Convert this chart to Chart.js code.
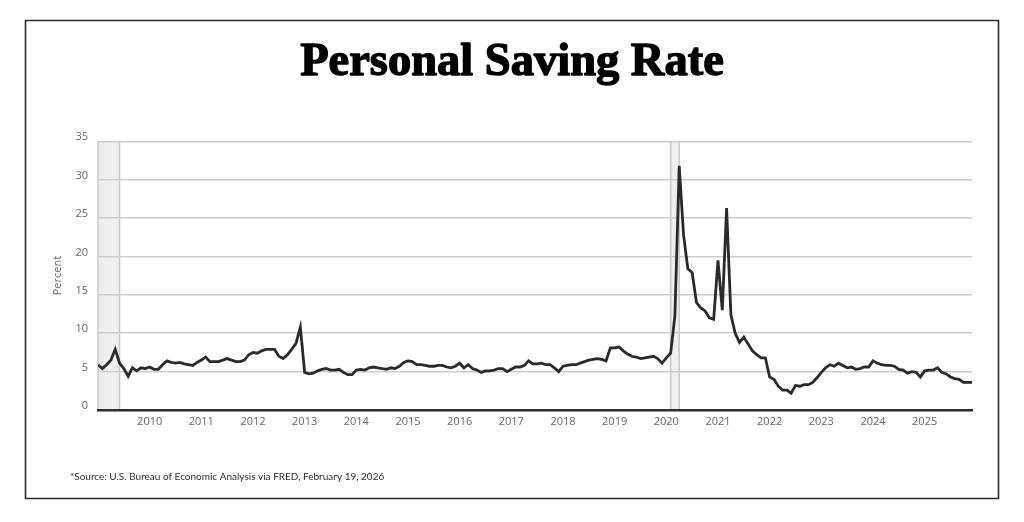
<!DOCTYPE html>
<html>
<head>
<meta charset="utf-8">
<script src="https://cdn.jsdelivr.net/npm/chart.js@4.4.1/dist/chart.umd.min.js"></script>
<style>
  html, body { margin: 0; padding: 0; background: #ffffff; }
  #wrap { width: 1024px; height: 522px; }
</style>
</head>
<body>
<div id="wrap"><canvas id="c" width="1024" height="522"></canvas></div>
<script>
// ---- Data (monthly personal saving rate, percent) ----
const years = [2009, 2010, 2011, 2012, 2013, 2014, 2015, 2016, 2017, 2018, 2019, 2020, 2021, 2022, 2023, 2024, 2025];
const rate2009 = [5.9, 5.4, 5.9, 6.5, 7.9, 6.1, 5.4, 4.4, 5.5, 5.1, 5.5, 5.4];
const rate2010 = [5.6, 5.3, 5.3, 5.9, 6.4, 6.2, 6.1, 6.2, 6.0, 5.9, 5.8, 6.2];
const rate2011 = [6.5, 6.9, 6.3, 6.3, 6.3, 6.5, 6.7, 6.5, 6.3, 6.3, 6.5, 7.2];
const rate2012 = [7.5, 7.4, 7.7, 7.9, 7.9, 7.9, 7.0, 6.7, 7.2, 7.9, 8.7, 10.8];
const rate2013 = [4.9, 4.7, 4.8, 5.1, 5.3, 5.4, 5.2, 5.2, 5.3, 4.9, 4.6, 4.6];
const rate2014 = [5.2, 5.3, 5.2, 5.5, 5.6, 5.5, 5.4, 5.3, 5.5, 5.4, 5.7, 6.2];
const rate2015 = [6.4, 6.3, 5.9, 5.9, 5.8, 5.7, 5.7, 5.8, 5.8, 5.6, 5.5, 5.7];
const rate2016 = [6.1, 5.5, 5.9, 5.4, 5.2, 4.9, 5.1, 5.1, 5.2, 5.4, 5.4, 5.0];
const rate2017 = [5.3, 5.6, 5.6, 5.8, 6.4, 6.0, 6.0, 6.1, 5.9, 5.9, 5.5, 5.0];
const rate2018 = [5.7, 5.8, 5.9, 5.9, 6.1, 6.3, 6.5, 6.6, 6.7, 6.6, 6.4, 8.1];
const rate2019 = [8.1, 8.2, 7.7, 7.3, 7.0, 6.9, 6.7, 6.8, 6.9, 7.0, 6.7, 6.1];
const rate2020 = [6.8, 7.4, 12.3, 31.8, 22.8, 18.4, 17.9, 14.0, 13.3, 12.9, 12.0, 11.8];
const rate2021 = [19.5, 13.0, 26.3, 12.4, 10.0, 8.8, 9.5, 8.6, 7.7, 7.2, 6.8, 6.8];
const rate2022 = [4.3, 4.0, 3.1, 2.6, 2.6, 2.2, 3.2, 3.1, 3.3, 3.3, 3.6, 4.2];
const rate2023 = [4.9, 5.5, 5.9, 5.7, 6.1, 5.8, 5.5, 5.6, 5.3, 5.4, 5.6, 5.6];
const rate2024 = [6.4, 6.1, 5.9, 5.8, 5.8, 5.7, 5.3, 5.2, 4.8, 5.0, 4.9, 4.3];
const rate2025 = [5.1, 5.2, 5.2, 5.5, 4.9, 4.7, 4.3, 4.1, 4.0, 3.6, 3.6, 3.6];
const ratesByYear = [rate2009, rate2010, rate2011, rate2012, rate2013, rate2014, rate2015, rate2016,
                     rate2017, rate2018, rate2019, rate2020, rate2021, rate2022, rate2023, rate2024, rate2025];

// x-axis tick labels (years)
const tickYears = [2010, 2011, 2012, 2013, 2014, 2015, 2016, 2017, 2018, 2019, 2020, 2021, 2022, 2023, 2024, 2025];
// y-axis tick values
const yTicks = [0, 5, 10, 15, 20, 25, 30, 35];
// Recessions: [start year, start month index, end year, end month index]
const recessions = [[2009, 0, 2009, 5], [2020, 1, 2020, 3]];

const titleText = 'Personal Saving Rate';
const yTitle = 'Percent';
const sourceText = '*Source: U.S. Bureau of Economic Analysis via FRED, February 19, 2026';

// Build points from arrays
const points = [];
years.forEach((yr, i) => {
  ratesByYear[i].forEach((v, m) => points.push({ x: yr + m / 12, y: v }));
});
const xMin = years[0];
const xMax = years[years.length - 1] + 11 / 12;

const titleFont = { family: 'Liberation Serif', size: 46.5, weight: 'bold', lineHeight: 1.2 };

const recessionPlugin = {
  id: 'recession',
  beforeDraw(chart) {
    const { ctx, chartArea, scales } = chart;
    ctx.save();
    recessions.forEach(r => {
      const x0 = scales.x.getPixelForValue(r[0] + r[1] / 12);
      const x1 = scales.x.getPixelForValue(r[2] + r[3] / 12);
      ctx.fillStyle = '#efefef';
      ctx.fillRect(x0, chartArea.top, x1 - x0, chartArea.bottom - chartArea.top);
      ctx.strokeStyle = '#c9c9c9';
      ctx.lineWidth = 1.5;
      ctx.beginPath();
      ctx.moveTo(x0, chartArea.top); ctx.lineTo(x0, chartArea.bottom);
      ctx.moveTo(x1, chartArea.top); ctx.lineTo(x1, chartArea.bottom);
      ctx.stroke();
    });
    ctx.restore();
  }
};

const framePlugin = {
  id: 'frame',
  afterDraw(chart) {
    const { ctx } = chart;
    ctx.save();
    // heavy title drawn centred on the page, over the (transparent) layout title
    const tb = chart.titleBlock;
    const ty = tb.top + tb.options.padding.top + titleFont.size * titleFont.lineHeight / 2;
    ctx.font = 'bold ' + titleFont.size + 'px "' + titleFont.family + '"';
    ctx.textAlign = 'center';
    ctx.textBaseline = 'middle';
    ctx.fillStyle = '#000000';
    ctx.strokeStyle = '#000000';
    ctx.lineWidth = 1.4;
    ctx.lineJoin = 'round';
    ctx.fillText(titleText, chart.width / 2, ty);
    ctx.strokeText(titleText, chart.width / 2, ty);

    ctx.strokeStyle = '#2b2b2b';
    ctx.lineWidth = 1.6;
    ctx.strokeRect(25.5, 20.5, 973, 478);
    ctx.fillStyle = '#2e2e2e';
    ctx.font = '10px Lato';
    ctx.textBaseline = 'middle';
    ctx.textAlign = 'left';
    ctx.fillText(sourceText, 70, 477);
    ctx.restore();
  }
};

new Chart(document.getElementById('c'), {
  type: 'line',
  data: {
    datasets: [{
      data: points,
      borderColor: '#2a2a2a',
      borderWidth: 2.8,
      pointRadius: 0,
      tension: 0,
      fill: false
    }]
  },
  options: {
    responsive: false,
    animation: false,
    devicePixelRatio: 1,
    layout: { padding: { left: 40, right: 52, top: 25, bottom: 62 } },
    plugins: {
      legend: { display: false },
      tooltip: { enabled: false },
      title: {
        display: true,
        text: titleText,
        color: 'rgba(0,0,0,0)',
        font: titleFont,
        padding: { top: 10.2, bottom: 50.3 }
      }
    },
    scales: {
      x: {
        type: 'linear',
        min: xMin,
        max: xMax,
        grid: { display: false, drawTicks: false },
        border: { display: true, color: '#2e2e2e', width: 2.6 },
        ticks: {
          color: '#666666',
          font: { family: 'Open Sans', size: 11 },
          padding: 5,
          maxRotation: 0,
          autoSkip: false,
          callback: (v) => String(v)
        },
        afterBuildTicks: (s) => { s.ticks = tickYears.map(v => ({ value: v })); },
        afterFit: (s) => { s.height = 50; }
      },
      y: {
        min: 0,
        max: 35,
        grid: { color: '#cccccc', lineWidth: 1.5, drawTicks: false },
        border: { display: false },
        ticks: {
          color: '#666666',
          font: { family: 'Open Sans', size: 11 },
          padding: 10,
          labelOffset: -4
        },
        afterBuildTicks: (s) => { s.ticks = yTicks.map(v => ({ value: v })); },
        afterFit: (s) => { s.width = 58; },
        title: {
          display: true,
          text: yTitle,
          color: '#666666',
          font: { family: 'Open Sans', size: 11 },
          padding: { top: 11, bottom: 0 }
        }
      }
    }
  },
  plugins: [recessionPlugin, framePlugin]
});
</script>
</body>
</html>
